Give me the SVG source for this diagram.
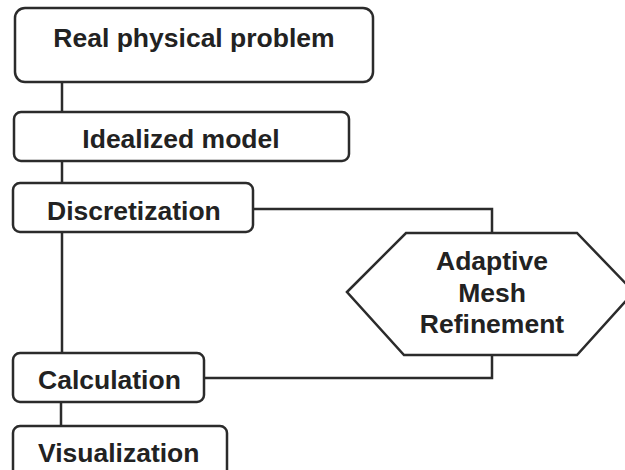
<svg xmlns="http://www.w3.org/2000/svg" width="625" height="470" viewBox="0 0 625 470">
<style>
.box{fill:#fff;stroke:#2b2b2b;stroke-width:2.5}
.ln{fill:none;stroke:#2b2b2b;stroke-width:2.5}
text{font-family:"Liberation Sans",Arial,sans-serif;font-weight:bold;font-size:26.5px;fill:#222}
.c{text-anchor:middle}
</style>
<rect width="625" height="470" fill="#fff"/>
<g id="connectors">
<line class="ln" x1="62" y1="82" x2="62" y2="112"/>
<line class="ln" x1="62" y1="161" x2="62" y2="183"/>
<line class="ln" x1="62" y1="232" x2="62" y2="353"/>
<line class="ln" x1="61" y1="402" x2="61" y2="426"/>
<polyline class="ln" points="253,209 492,209 492,233"/>
<polyline class="ln" points="492,355 492,378 204,378"/>
</g>
<g id="real">
<rect class="box" x="15" y="8" width="358" height="74" rx="10"/>
<text class="c" x="194" y="47">Real physical problem</text>
</g>
<g id="idealized">
<rect class="box" x="14" y="112" width="335" height="49" rx="7"/>
<text class="c" x="181" y="148">Idealized model</text>
</g>
<g id="discretization">
<rect class="box" x="13" y="183" width="240" height="49" rx="7"/>
<text x="47" y="220">Discretization</text>
</g>
<g id="amr">
<polygon class="box" points="347,292 406,233 577,233 634,292 577,355 404,355"/>
<text class="c" x="492" y="270">Adaptive</text>
<text class="c" x="492" y="302">Mesh</text>
<text class="c" x="492" y="333">Refinement</text>
</g>
<g id="calculation">
<rect class="box" x="13" y="353" width="191" height="49" rx="7"/>
<text x="38" y="389">Calculation</text>
</g>
<g id="visualization">
<rect class="box" x="13" y="426" width="214" height="60" rx="7"/>
<text x="38" y="462">Visualization</text>
</g>
</svg>
